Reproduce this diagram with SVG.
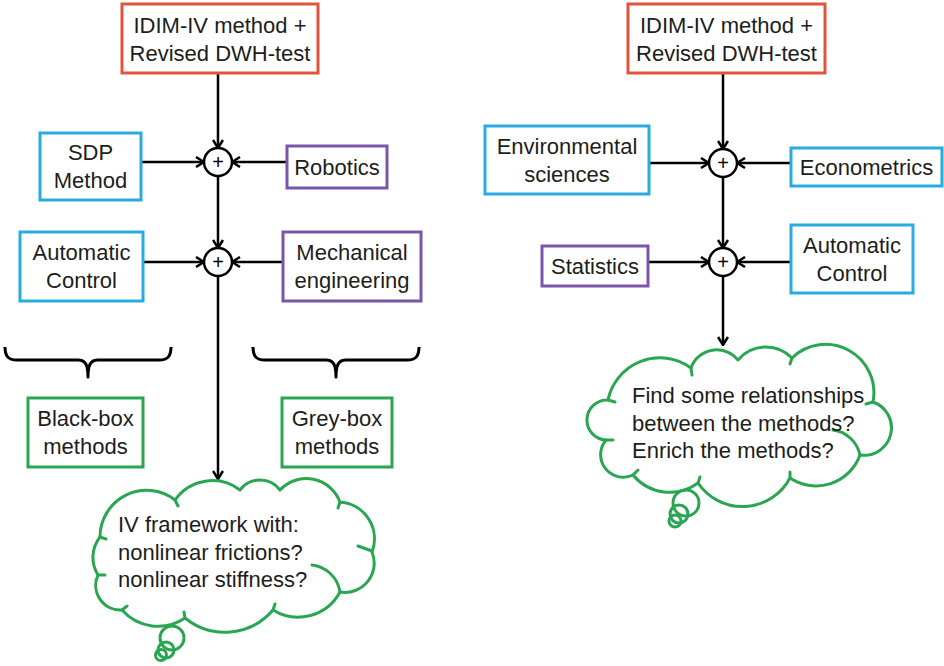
<svg xmlns="http://www.w3.org/2000/svg" width="944" height="666" viewBox="0 0 944 666">
<style>
.box{fill:#fff;stroke-width:3}
.red{stroke:#e2543a}
.blue{stroke:#29abe2}
.purple{stroke:#7a55aa}
.green{stroke:#2aa552}
.t{font-family:"Liberation Sans",Arial,sans-serif;font-size:22px;fill:#1d1d1b}
.c{text-anchor:middle}
.j{fill:#fff;stroke:#000;stroke-width:2.5}
.jt{font-family:"Liberation Sans",Arial,sans-serif;font-size:20px;text-anchor:middle;fill:#000}
.ln{stroke:#000;stroke-width:2.5;fill:none}
.ar{marker-end:url(#ah)}
.cloud{fill:#fff;stroke:#2aa552;stroke-width:3;stroke-linejoin:round}
.bub{fill:none;stroke:#2aa552;stroke-width:3;stroke-linecap:round}
.br{fill:none;stroke:#000;stroke-width:3;stroke-linejoin:round}
</style>
<defs>
<marker id="ah" viewBox="0 0 10 12" refX="9" refY="6" markerWidth="10" markerHeight="12" markerUnits="userSpaceOnUse" orient="auto">
<path d="M1,1 L9,6 L1,11" fill="none" stroke="#000" stroke-width="2.5"/>
</marker>
</defs>
<rect width="944" height="666" fill="#fff"/>

<g id="connectors">
<line class="ln ar" x1="218" y1="73" x2="218" y2="148"/>
<line class="ln ar" x1="141" y1="162" x2="204" y2="162"/>
<line class="ln ar" x1="287" y1="162" x2="232" y2="162"/>
<line class="ln ar" x1="218" y1="176" x2="218" y2="248"/>
<line class="ln ar" x1="143" y1="262" x2="204" y2="262"/>
<line class="ln ar" x1="283" y1="262" x2="232" y2="262"/>
<line class="ln ar" x1="218" y1="276" x2="218" y2="479"/>
<line class="ln ar" x1="723" y1="73" x2="723" y2="149"/>
<line class="ln ar" x1="649" y1="163" x2="709" y2="163"/>
<line class="ln ar" x1="791" y1="163" x2="737" y2="163"/>
<line class="ln ar" x1="723" y1="177" x2="723" y2="248"/>
<line class="ln ar" x1="648" y1="262" x2="709" y2="262"/>
<line class="ln ar" x1="791" y1="262" x2="737" y2="262"/>
<line class="ln ar" x1="723" y1="276" x2="723" y2="345"/>
</g>

<g id="topL">
<rect class="box red" x="122" y="4" width="196" height="69"/>
<text class="t c" x="220" y="33">IDIM-IV method +</text>
<text class="t c" x="220" y="61">Revised DWH-test</text>
</g>
<g id="junction1L"><circle class="j" cx="218" cy="162" r="14"/><text class="jt" x="218" y="169">+</text></g>
<g id="junction2L"><circle class="j" cx="218" cy="262" r="14"/><text class="jt" x="218" y="269">+</text></g>
<g id="sdp">
<rect class="box blue" x="40" y="133" width="101" height="67"/>
<text class="t c" x="90.5" y="160">SDP</text>
<text class="t c" x="90.5" y="188">Method</text>
</g>
<g id="robotics">
<rect class="box purple" x="287" y="146" width="100" height="42"/>
<text class="t c" x="337" y="175">Robotics</text>
</g>
<g id="autoL">
<rect class="box blue" x="20" y="232" width="123" height="69"/>
<text class="t c" x="81.5" y="260">Automatic</text>
<text class="t c" x="81.5" y="288">Control</text>
</g>
<g id="mech">
<rect class="box purple" x="283" y="232" width="138" height="69"/>
<text class="t c" x="352" y="260">Mechanical</text>
<text class="t c" x="352" y="288">engineering</text>
</g>
<g id="braceL"><path class="br" d="M5,347 C5,356 8,360 17,360 H78 C85,360 88,364 88,377 C88,364 91,360 98,360 H159 C168,360 171,356 171,347"/></g>
<g id="braceR"><path class="br" d="M253,347 C253,356 256,360 265,360 H326 C333,360 336,364 336,377 C336,364 339,360 346,360 H407 C416,360 419,356 419,347"/></g>
<g id="blackbox">
<rect class="box green" x="28" y="398" width="115" height="69"/>
<text class="t c" x="85.5" y="426">Black-box</text>
<text class="t c" x="85.5" y="454">methods</text>
</g>
<g id="greybox">
<rect class="box green" x="282" y="398" width="110" height="69"/>
<text class="t c" x="337" y="426">Grey-box</text>
<text class="t c" x="337" y="454">methods</text>
</g>
<g id="cloudL">
<path class="cloud" d="M100,537 A46.6,46.6 0 0 1 175,500 A45.6,45.6 0 0 1 240,490 A25,25 0 0 1 280,490 A36,36 0 0 1 340,502 A36.9,36.9 0 0 1 372,552 A29.3,29.3 0 0 1 340,592 A47.6,47.6 0 0 1 273,610 A63.3,63.3 0 0 1 185,618 A48,48 0 0 1 122,610 A24.7,24.7 0 0 1 98,575 A33,33 0 0 1 100,537 Z"/>
<path class="bub" d="M175,500 L178,506 M340,502 L338,508 M372,551 L358,546 M312,565 A32,32 0 0 1 340,592 M273,610 L275,604 M185,618 L184,612 M122,610 L127,606 M98,575 L105,575 M100,537 L106,539"/>
<circle class="bub" cx="172" cy="638" r="12"/>
<circle class="bub" cx="166" cy="650" r="8"/>
<circle class="bub" cx="161" cy="655" r="5.5"/>
<text class="t" x="118" y="532">IV framework with:</text>
<text class="t" x="118" y="560">nonlinear frictions?</text>
<text class="t" x="118" y="587">nonlinear stiffness?</text>
</g>

<g id="topR">
<rect class="box red" x="628" y="4" width="197" height="69"/>
<text class="t c" x="726.5" y="33">IDIM-IV method +</text>
<text class="t c" x="726.5" y="61">Revised DWH-test</text>
</g>
<g id="junction1R"><circle class="j" cx="723" cy="163" r="14"/><text class="jt" x="723" y="170">+</text></g>
<g id="junction2R"><circle class="j" cx="723" cy="262" r="14"/><text class="jt" x="723" y="269">+</text></g>
<g id="env">
<rect class="box blue" x="485" y="126" width="164" height="68"/>
<text class="t c" x="567" y="154">Environmental</text>
<text class="t c" x="567" y="182">sciences</text>
</g>
<g id="econ">
<rect class="box blue" x="791" y="148" width="151" height="38"/>
<text class="t c" x="866.5" y="175">Econometrics</text>
</g>
<g id="stats">
<rect class="box purple" x="542" y="246" width="106" height="40"/>
<text class="t c" x="595" y="274">Statistics</text>
</g>
<g id="autoR">
<rect class="box blue" x="791" y="225" width="122" height="68"/>
<text class="t c" x="852" y="253">Automatic</text>
<text class="t c" x="852" y="281">Control</text>
</g>
<g id="cloudR">
<path class="cloud" d="M608,400 A53,53 0 0 1 691,368 A27.3,27.3 0 0 1 738,360 A36.4,36.4 0 0 1 792,358 A48.3,48.3 0 0 1 873,402 A27.4,27.4 0 0 1 860,455 A46.7,46.7 0 0 1 790,478 A53.8,53.8 0 0 1 698,483 A47.7,47.7 0 0 1 633,475 A22.6,22.6 0 0 1 606,440 A20,20 0 0 1 608,400 Z"/>
<path class="bub" d="M608,400 L615,402 M691,368 L692,375 M792,358 L790,364 M873,402 L866,404 M833,430 A32,32 0 0 1 860,455 M790,478 L790,472 M698,483 L700,477 M633,475 L638,470 M606,440 L613,440"/>
<circle class="bub" cx="686" cy="503" r="13"/>
<circle class="bub" cx="679" cy="514" r="9"/>
<circle class="bub" cx="675" cy="521" r="6"/>
<text class="t" x="632" y="403">Find some relationships</text>
<text class="t" x="632" y="431">between the methods?</text>
<text class="t" x="632" y="458">Enrich the methods?</text>
</g>
</svg>
